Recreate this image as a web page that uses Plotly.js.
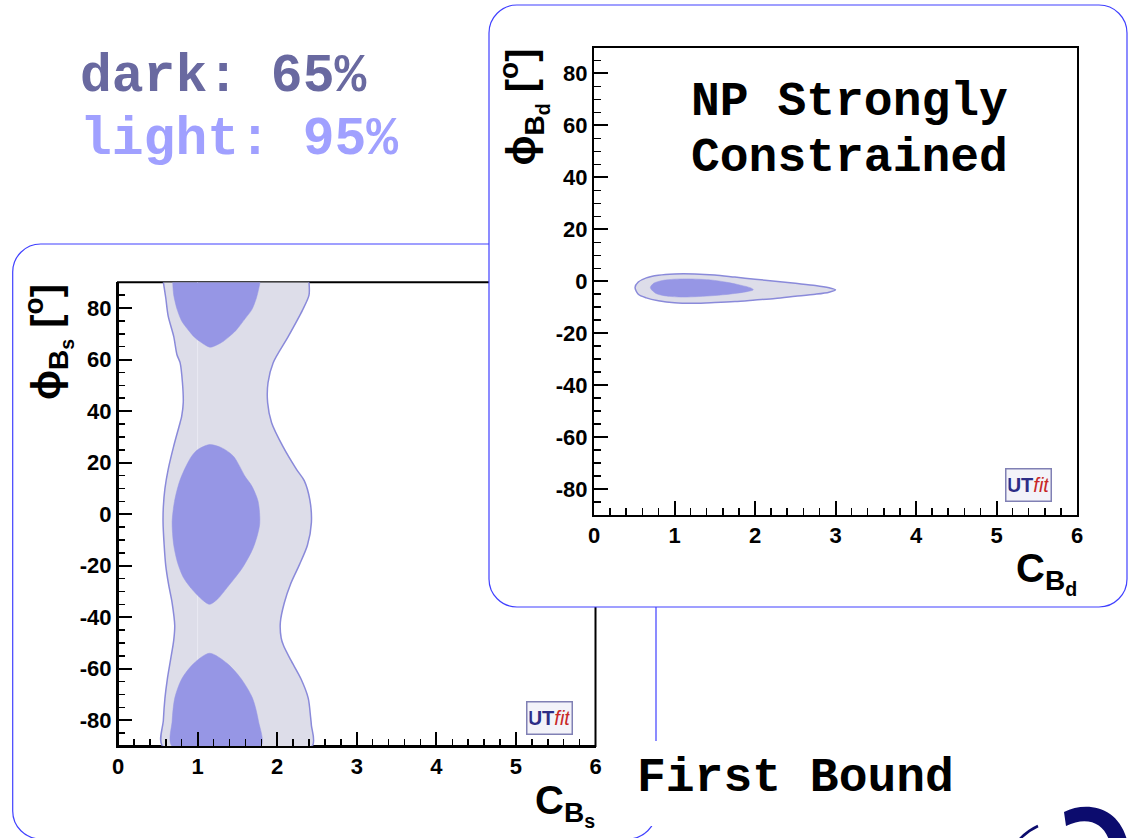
<!DOCTYPE html>
<html>
<head>
<meta charset="utf-8">
<script src="https://cdn.plot.ly/plotly-3.0.1.min.js"></script>
<style>
  html, body { margin: 0; padding: 0; background: #fff; }
  #chart { width: 1128px; height: 838px; }
</style>
</head>
<body>
<div id="chart"></div>
<script>
// ---- B_s plane: 95% (light) region, (C_Bs, phi_Bs [deg]) boundary ----
const bsLightC = [0.57, 0.60, 0.63, 0.70, 0.74, 0.78, 0.81, 0.82, 0.80, 0.78, 0.70, 0.63, 0.59, 0.57, 0.566, 0.58, 0.60, 0.634, 0.68, 0.713, 0.70, 0.66, 0.62, 0.59, 0.57, 0.56,
                  2.44, 2.43, 2.42, 2.39, 2.30, 2.17, 2.08, 2.05, 2.04, 2.09, 2.17, 2.28, 2.38, 2.43, 2.41, 2.34, 2.245, 2.07, 1.93, 1.88, 1.885, 1.95, 2.14, 2.32, 2.40, 2.40];
const bsLightPhi = [90, 84, 77, 69, 62, 58.8, 51, 43.3, 38, 35.5, 26.4, 17.3, 10, 3, -3, -12, -20, -27, -34.4, -43.3, -49, -56.6, -64, -71.4, -80, -90,
                    -90, -82, -78.8, -71.4, -64, -56.6, -51, -48, -42, -34.4, -27, -19.6, -12.1, -3.3, 5.6, 13, 17.3, 26.4, 35.5, 43.3, 51, 58.8, 69, 79.3, 85, 90];

// ---- B_s plane: 65% (dark) regions ----
const bsDarkTopC = [0.687, 0.70, 0.745, 0.80, 0.88, 0.96, 1.03, 1.156, 1.25, 1.32, 1.42, 1.49, 1.60, 1.68, 1.74, 1.785];
const bsDarkTopPhi = [90, 85, 79.3, 75, 71.6, 68.7, 67, 64.8, 65.8, 67, 69.5, 71.6, 76, 79.3, 84, 90];

const bsDarkMidC = [1.15, 1.00, 0.925, 0.83, 0.766, 0.71, 0.68, 0.70, 0.75, 0.82, 0.925, 1.05, 1.15, 1.25, 1.374, 1.56, 1.70, 1.78, 1.76, 1.68, 1.60, 1.45, 1.30, 1.15];
const bsDarkMidPhi = [27, 25, 22.5, 17, 12, 5, -3, -12, -19, -24.5, -29, -33, -35, -33, -28.4, -21, -13, -4, 5, 11, 14.5, 22.5, 25.8, 27];

const bsDarkLowC = [1.15, 1.374, 1.55, 1.69, 1.765, 1.797, 0.677, 0.68, 0.713, 0.80, 0.95, 1.15];
const bsDarkLowPhi = [-54, -58, -64, -71.4, -80.3, -90, -90, -80.3, -71.4, -64, -58, -54];

// ---- B_d plane: 95% (light) and 65% (dark) regions, (C_Bd, phi_Bd [deg]) ----
const bdLightC = [0.51, 0.55, 0.65, 0.80, 1.00, 1.25, 1.50, 1.75, 2.00, 2.25, 2.50, 2.75, 2.92, 3.00, 2.92, 2.75, 2.50, 2.25, 2.00, 1.75, 1.50, 1.25, 1.00, 0.80, 0.65, 0.55, 0.51];
const bdLightPhi = [-2.4, -0.3, 1.3, 2.3, 2.8, 2.8, 2.4, 1.6, 0.8, 0.0, -0.8, -1.6, -2.5, -3.3, -4.2, -5.0, -5.8, -6.6, -7.2, -7.8, -8.2, -8.5, -8.3, -7.5, -6.4, -5.0, -2.4];

const bdDarkC = [0.70, 0.74, 0.85, 1.00, 1.20, 1.45, 1.65, 1.82, 1.95, 1.98, 1.90, 1.70, 1.50, 1.30, 1.10, 0.90, 0.77, 0.70];
const bdDarkPhi = [-2.5, -0.8, 0.3, 0.8, 0.9, 0.5, -0.4, -1.5, -2.6, -3.3, -4.0, -4.9, -5.5, -5.9, -6.1, -5.7, -4.7, -2.5];

// ---- axis ticks ----
const cTicks = [0, 1, 2, 3, 4, 5, 6];
const phiTicks = [-80, -60, -40, -20, 0, 20, 40, 60, 80];

// ---- page geometry (pixels) ----
const W = 1128, H = 838;
const fx = x => x / W;
const fy = y => 1 - y / H;

const LIGHT = 'rgb(221,221,233)';
const LIGHT_EDGE = 'rgb(138,138,218)';
const DARK = 'rgb(150,150,229)';
const PANEL_EDGE = 'rgb(64,64,255)';

function roundRect(x0, y0, x1, y1, r) {
  const k = 0.5523 * r;
  const P = (x, y) => fx(x).toFixed(5) + ',' + fy(y).toFixed(5);
  return 'M' + P(x0 + r, y0) +
    ' L' + P(x1 - r, y0) +
    ' C' + P(x1 - r + k, y0) + ' ' + P(x1, y0 + r - k) + ' ' + P(x1, y0 + r) +
    ' L' + P(x1, y1 - r) +
    ' C' + P(x1, y1 - r + k) + ' ' + P(x1 - r + k, y1) + ' ' + P(x1 - r, y1) +
    ' L' + P(x0 + r, y1) +
    ' C' + P(x0 + r - k, y1) + ' ' + P(x0, y1 - r + k) + ' ' + P(x0, y1 - r) +
    ' L' + P(x0, y0 + r) +
    ' C' + P(x0, y0 + r - k) + ' ' + P(x0 + r - k, y0) + ' ' + P(x0 + r, y0) + ' Z';
}
function pxPath(cmds) {
  // cmds: list of [letter, x, y, x, y, ...] in pixels
  return cmds.map(c => c[0] + c.slice(1).reduce((s, v, i) =>
    s + (i % 2 === 0 ? (i ? ' ' : '') + fx(v).toFixed(5) : ',' + fy(v).toFixed(5)), '')).join(' ');
}

// plot frames in pixels
const L = { x0: 118, x1: 595.5, y0: 282.3, y1: 746 };
const R = { x0: 594, x1: 1077, y0: 47.5, y1: 515 };

const tickFont = { family: 'Liberation Sans, Arial, sans-serif', size: 22, color: '#000', weight: 'bold' };

function cAxis(domain, anchor, mirror) {
  return {
    domain: domain, anchor: anchor, range: [0, 6],
    tickvals: cTicks, ticktext: cTicks.map(String),
    ticks: 'inside', ticklen: 14, tickwidth: 2, tickcolor: '#000',
    minor: { dtick: 0.2, ticks: 'inside', ticklen: 7, tickwidth: 1.5, tickcolor: '#000', showgrid: false },
    showline: true, linewidth: 2, linecolor: '#000', mirror: mirror,
    showgrid: false, zeroline: false, tickfont: tickFont, fixedrange: true
  };
}
function phiAxis(domain, anchor, mirror) {
  return {
    domain: domain, anchor: anchor, range: [-90, 90],
    tickvals: phiTicks, ticktext: phiTicks.map(String),
    ticks: 'inside', ticklen: 14, tickwidth: 2, tickcolor: '#000',
    minor: { dtick: 5, ticks: 'inside', ticklen: 7, tickwidth: 1.5, tickcolor: '#000', showgrid: false },
    showline: true, linewidth: 2, linecolor: '#000', mirror: mirror,
    showgrid: false, zeroline: false, tickfont: tickFont, fixedrange: true
  };
}

function region(x, y, fill, edge, edgeWidth, xa, ya) {
  return {
    type: 'scatter', mode: 'lines', x: x, y: y, xaxis: xa, yaxis: ya,
    fill: 'toself', fillcolor: fill,
    line: { color: edge, width: edgeWidth, shape: 'spline', smoothing: 0.8 },
    hoverinfo: 'skip', showlegend: false
  };
}

const traces = [
  region(bsLightC, bsLightPhi, LIGHT, LIGHT_EDGE, 1.5, 'x', 'y'),
  { type: 'scatter', mode: 'lines', x: [1, 1], y: [-90, 90], xaxis: 'x', yaxis: 'y',
    line: { color: 'rgb(233,233,242)', width: 1 }, hoverinfo: 'skip', showlegend: false },
  region(bsDarkTopC, bsDarkTopPhi, DARK, DARK, 0.5, 'x', 'y'),
  region(bsDarkMidC, bsDarkMidPhi, DARK, DARK, 0.5, 'x', 'y'),
  region(bsDarkLowC, bsDarkLowPhi, DARK, DARK, 0.5, 'x', 'y'),
  region(bdLightC, bdLightPhi, LIGHT, LIGHT_EDGE, 1.5, 'x2', 'y2'),
  region(bdDarkC, bdDarkPhi, DARK, DARK, 0.5, 'x2', 'y2')
];

const monoBold = (size, color) => ({ family: 'Liberation Mono, Courier New, monospace', size: size, color: color, weight: 'bold' });
const titleFont = size => ({ family: 'Liberation Sans, DejaVu Sans, Arial, sans-serif', size: size, color: '#000', weight: 'bold' });

function note(x, y, text, font, xanchor, yanchor, extra) {
  return Object.assign({ xref: 'paper', yref: 'paper', x: fx(x), y: fy(y), text: text, font: font,
    xanchor: xanchor, yanchor: yanchor, showarrow: false }, extra || {});
}
function logo(cx, cy) {
  return note(cx, cy,
    '<span style="color:#2d2d86"><b>UT</b></span><span style="color:#c82828"><i>fit</i></span>',
    { family: 'Liberation Sans Narrow, Liberation Sans, Arial, sans-serif', size: 20, color: '#2d2d86' }, 'center', 'middle',
    { bgcolor: '#f3f3f9', bordercolor: '#8080b4', borderwidth: 1.5, borderpad: 2, width: 40, height: 27 });
}

const annotations = [
  note(78, 77, 'dark: 65%', monoBold(53, 'rgb(105,105,160)'), 'left', 'middle'),
  note(78, 140, 'light: 95%', monoBold(53, 'rgb(160,160,255)'), 'left', 'middle'),
  note(689, 102, 'NP Strongly', monoBold(48, '#000'), 'left', 'middle'),
  note(689, 158, 'Constrained', monoBold(48, '#000'), 'left', 'middle'),
  note(635, 778, 'First Bound', monoBold(48, '#000'), 'left', 'middle'),
  // axis titles
  note(48, 282, 'ϕ<sub>B<sub>s</sub></sub> [<sup>o</sup>]', titleFont(40), 'center', 'top', { textangle: -90 }),
  note(597, 776, 'C<sub>B<sub>s</sub></sub>', titleFont(40), 'right', 'top'),
  note(523, 47, 'ϕ<sub>B<sub>d</sub></sub> [<sup>o</sup>]', titleFont(40), 'center', 'top', { textangle: -90 }),
  note(1079, 544, 'C<sub>B<sub>d</sub></sub>', titleFont(40), 'right', 'top'),
  logo(549, 717.5),
  logo(1028.5, 485.5)
];

const shapes = [
  // lower panel
  { type: 'path', xref: 'paper', yref: 'paper', layer: 'below', path: roundRect(12.7, 244, 656, 839, 28),
    fillcolor: '#fff', line: { color: PANEL_EDGE, width: 1.2 } },
  // frame of the B_s plot
  { type: 'rect', xref: 'paper', yref: 'paper', layer: 'below',
    x0: fx(L.x0), x1: fx(L.x1), y0: fy(L.y1), y1: fy(L.y0), line: { color: '#000', width: 2 } },
  // upper panel
  { type: 'path', xref: 'paper', yref: 'paper', layer: 'below', path: roundRect(489, 5, 1127, 607, 28),
    fillcolor: '#fff', line: { color: PANEL_EDGE, width: 1.2 } },
  // caption box
  { type: 'rect', xref: 'paper', yref: 'paper', layer: 'below',
    x0: fx(625), x1: fx(960), y0: fy(826), y1: fy(741), fillcolor: '#fff', line: { width: 0 } },
  // corner emblem
  { type: 'path', xref: 'paper', yref: 'paper', layer: 'below',
    path: pxPath([['M', 1064, 812], ['C', 1086, 801, 1118, 806, 1127, 840], ['L', 1109, 840], ['C', 1103, 822, 1086, 816, 1066, 826], ['Z']]),
    fillcolor: 'rgb(12,12,110)', line: { width: 0 } },
  { type: 'path', xref: 'paper', yref: 'paper', layer: 'below',
    path: pxPath([['M', 1019, 840], ['Q', 1027, 831, 1038, 826]]),
    line: { color: 'rgb(12,12,110)', width: 2.5 } }
];

const layout = {
  width: W, height: H, autosize: false,
  margin: { l: 0, r: 0, t: 0, b: 0, pad: 0 },
  paper_bgcolor: '#fff', plot_bgcolor: 'rgba(0,0,0,0)',
  showlegend: false,
  xaxis: cAxis([fx(L.x0), fx(L.x1)], 'y', false),
  yaxis: phiAxis([fy(L.y1), fy(L.y0)], 'x', false),
  xaxis2: cAxis([fx(R.x0), fx(R.x1)], 'y2', true),
  yaxis2: phiAxis([fy(R.y1), fy(R.y0)], 'x2', true),
  shapes: shapes,
  annotations: annotations
};

Plotly.newPlot('chart', traces, layout, { staticPlot: true, displayModeBar: false });
</script>
</body>
</html>
